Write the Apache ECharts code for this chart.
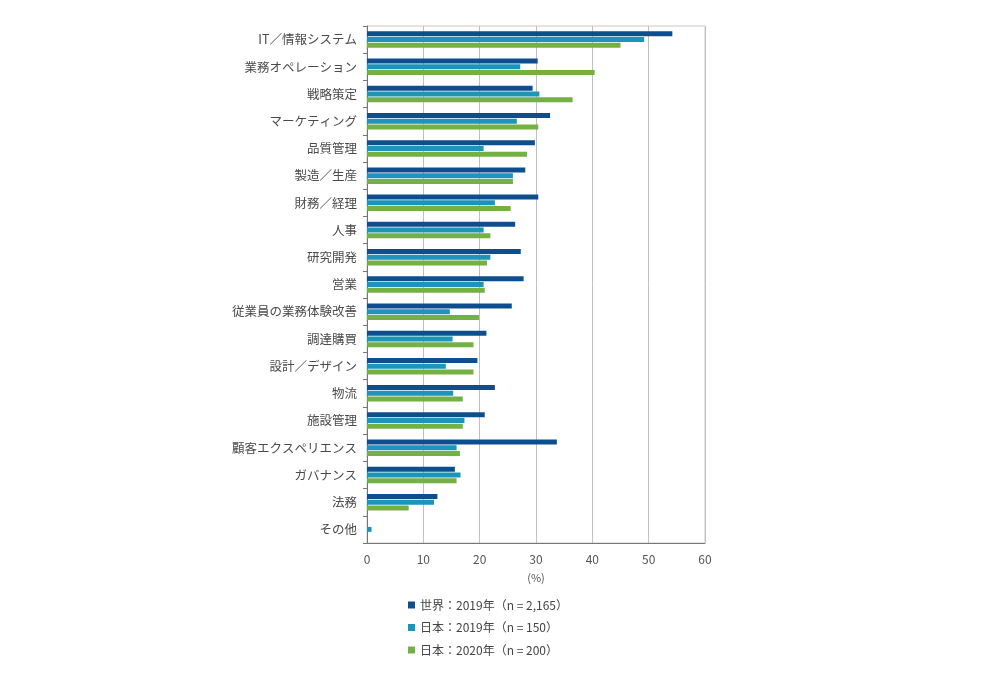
<!DOCTYPE html>
<html><head><meta charset="utf-8">
<script src="https://cdn.jsdelivr.net/npm/echarts@6/dist/echarts.min.js"></script>
<style>html,body{margin:0;padding:0;background:#fff}#c{width:1000px;height:676px}</style>
</head><body><div id="c"></div>
<script>
const categories = ["IT／情報システム","業務オペレーション","戦略策定","マーケティング","品質管理","製造／生産","財務／経理","人事","研究開発","営業","従業員の業務体験改善","調達購買","設計／デザイン","物流","施設管理","顧客エクスペリエンス","ガバナンス","法務","その他"];
const seriesNames = ["世界：2019年（n = 2,165）","日本：2019年（n = 150）","日本：2020年（n = 200）"];
const world2019 = [54.2,30.3,29.4,32.5,29.8,28.1,30.4,26.3,27.3,27.8,25.7,21.2,19.6,22.7,20.9,33.7,15.6,12.5,0];
const japan2019 = [49.2,27.2,30.6,26.6,20.7,25.9,22.7,20.7,21.9,20.7,14.7,15.2,14.0,15.3,17.3,15.9,16.6,11.9,0.8];
const japan2020 = [45.0,40.4,36.5,30.4,28.4,25.9,25.5,21.9,21.3,20.9,19.9,18.9,18.9,17.0,17.0,16.5,15.9,7.4,0];
const xTicks = [0,10,20,30,40,50,60];
const colors = ["#0d4e8e","#1d95b9","#74b144"];
const font = '"Noto Sans CJK JP", "Noto Sans", sans-serif';
const datas = [world2019, japan2019, japan2020];
const chart = echarts.init(document.getElementById('c'));
chart.setOption({
  animation:false,
  textStyle:{fontFamily:font},
  grid:{left:367,right:295,top:26,bottom:133,show:true,borderColor:'#c8c8c8',borderWidth:1},
  legend:{orient:'vertical',left:403,top:594,itemGap:10.5,itemWidth:7,itemHeight:7,icon:'rect',
    textStyle:{fontFamily:font,fontSize:12,color:'#444'},data:seriesNames},
  xAxis:{type:'value',min:xTicks[0],max:xTicks[xTicks.length-1],interval:10,
    name:'(%)',nameLocation:'middle',nameGap:29,nameTextStyle:{fontFamily:font,fontSize:11,color:'#555'},
    axisLine:{show:true,lineStyle:{color:'#777'}},axisTick:{show:false},
    axisLabel:{fontFamily:font,fontSize:12,color:'#555',margin:10},
    splitLine:{show:true,lineStyle:{color:'#c0c0c0',width:1}}},
  yAxis:{type:'category',inverse:true,data:categories,
    axisLine:{show:true,lineStyle:{color:'#777'}},
    axisTick:{show:true,length:4,lineStyle:{color:'#777'}},
    axisLabel:{fontFamily:font,fontSize:12.5,color:'#4a4a4a',margin:10}},
  series:seriesNames.map((n,i)=>({name:n,type:'bar',data:datas[i],barWidth:5,barGap:'15%',
    itemStyle:{color:colors[i]}}))
});
</script></body></html>
